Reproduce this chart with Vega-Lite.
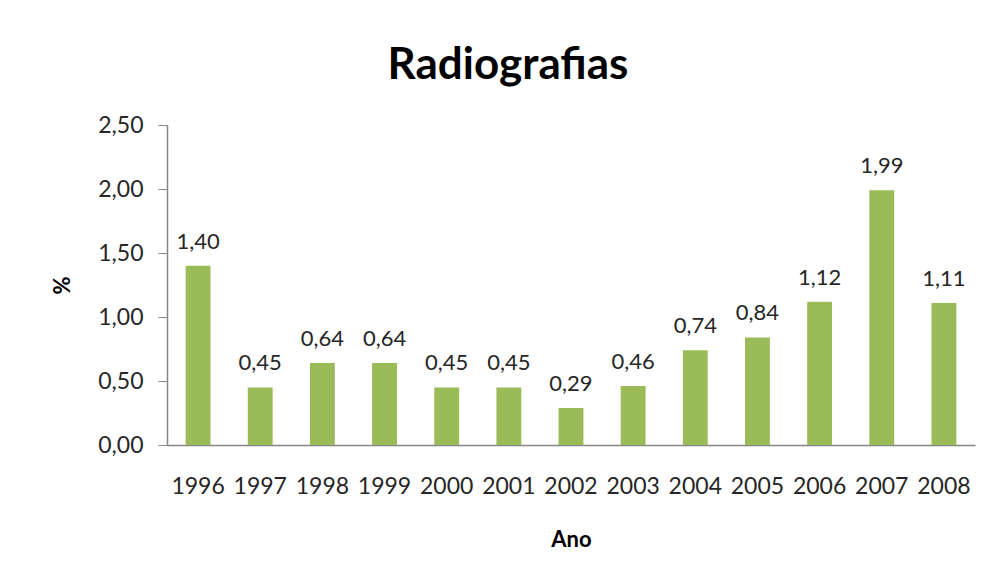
{
  "$schema": "https://vega.github.io/schema/vega-lite/v6.json",
  "autosize": {"type": "none"},
  "padding": {"left": 167, "top": 125, "right": 19, "bottom": 138},
  "width": 808,
  "height": 320,
  "background": "white",
  "config": {
    "locale": {"number": {"decimal": ",", "thousands": ".", "grouping": [3], "currency": ["R$", ""]}},
    "view": {"stroke": null},
    "font": "Lato"
  },
  "title": {
    "text": "Radiografias",
    "fontSize": 44,
    "fontWeight": "bold",
    "font": "Lato",
    "color": "#000000",
    "anchor": "middle",
    "dx": -63,
    "offset": 26
  },
  "data": {
    "values": [
      {"ano": "1996", "pct": 1.40},
      {"ano": "1997", "pct": 0.45},
      {"ano": "1998", "pct": 0.64},
      {"ano": "1999", "pct": 0.64},
      {"ano": "2000", "pct": 0.45},
      {"ano": "2001", "pct": 0.45},
      {"ano": "2002", "pct": 0.29},
      {"ano": "2003", "pct": 0.46},
      {"ano": "2004", "pct": 0.74},
      {"ano": "2005", "pct": 0.84},
      {"ano": "2006", "pct": 1.12},
      {"ano": "2007", "pct": 1.99},
      {"ano": "2008", "pct": 1.11}
    ]
  },
  "encoding": {
    "x": {
      "field": "ano",
      "type": "ordinal",
      "scale": {"paddingInner": 0.6, "paddingOuter": 0.3},
      "axis": {
        "title": "Ano",
        "titleFontSize": 22,
        "titleFontWeight": "bold",
        "titleColor": "#000000",
        "titlePadding": 31,
        "labelAngle": 0,
        "labelFontSize": 23,
        "labelColor": "#262626",
        "labelPadding": 30,
        "ticks": false,
        "domainColor": "#868686",
        "domainWidth": 1.5
      }
    },
    "y": {
      "field": "pct",
      "type": "quantitative",
      "scale": {"domain": [0, 2.5]},
      "axis": {
        "title": "%",
        "titleFontSize": 22,
        "titleFontWeight": "bold",
        "titleColor": "#000000",
        "titlePadding": 23,
        "values": [0, 0.5, 1, 1.5, 2, 2.5],
        "format": ".2f",
        "labelFontSize": 23,
        "labelColor": "#262626",
        "labelPadding": 15,
        "tickSize": 9,
        "tickColor": "#868686",
        "domainColor": "#868686",
        "domainWidth": 1.5,
        "grid": false
      }
    }
  },
  "layer": [
    {"mark": {"type": "bar", "color": "#9BBB59"}},
    {
      "mark": {"type": "text", "baseline": "bottom", "dy": -12, "fontSize": 22, "color": "#262626", "font": "Lato"},
      "encoding": {"text": {"field": "pct", "type": "quantitative", "format": ".2f"}}
    }
  ]
}
